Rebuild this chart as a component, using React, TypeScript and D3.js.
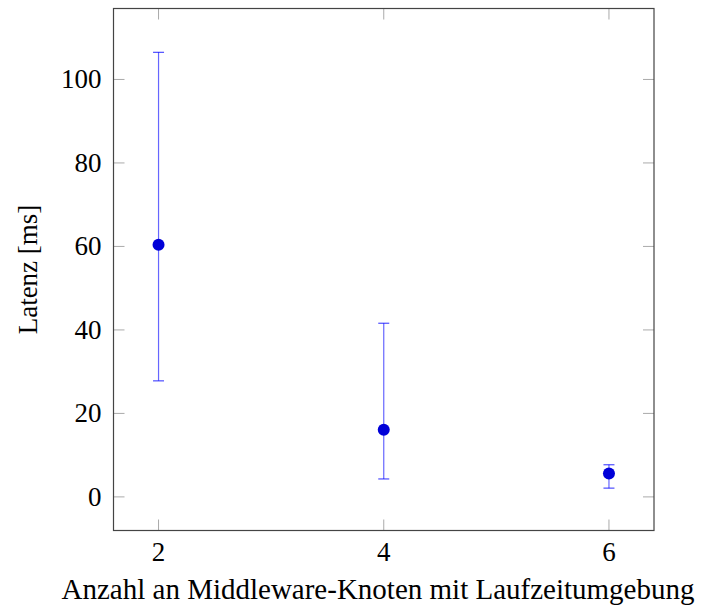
import React from "react";
import * as d3 from "d3";

const nodes = [2, 4, 6];
const meanLatency = [60.4, 16.1, 5.6];
const upperLatency = [106.5, 41.6, 7.7];
const lowerLatency = [27.8, 4.3, 2.1];
const xTicks = [2, 4, 6];
const yTicks = [0, 20, 40, 60, 80, 100];

const W = 710, H = 612;
const M = { left: 113.5, right: 654, top: 8.5, bottom: 530.5 };
const FONT = "'Liberation Serif', 'DejaVu Serif', serif";

export default function App() {
  const x = d3.scaleLinear().domain([1.6, 6.4]).range([M.left, M.right]);
  const y = d3.scaleLinear().domain([-8.05, 117.0]).range([M.bottom, M.top]);
  const tl = 11;
  return (
    <svg width={W} height={H} style={{ position: "absolute", left: 0, top: 0 }}>
      <rect width={W} height={H} fill="white" />
      {xTicks.map((t) => (
        <g key={"x" + t}>
          <line x1={x(t)} x2={x(t)} y1={M.bottom} y2={M.bottom - tl} stroke="#aaa" strokeWidth={1} />
          <line x1={x(t)} x2={x(t)} y1={M.top} y2={M.top + tl} stroke="#aaa" strokeWidth={1} />
          <text x={x(t)} y={M.bottom + 30} textAnchor="middle" fontFamily={FONT} fontSize={27} fill="#000">{t}</text>
        </g>
      ))}
      {yTicks.map((t) => (
        <g key={"y" + t}>
          <line x1={M.left} x2={M.left + tl} y1={y(t)} y2={y(t)} stroke="#aaa" strokeWidth={1} />
          <line x1={M.right} x2={M.right - tl} y1={y(t)} y2={y(t)} stroke="#aaa" strokeWidth={1} />
          <text x={M.left - 12} y={y(t) + 9} textAnchor="end" fontFamily={FONT} fontSize={27} fill="#000">{t}</text>
        </g>
      ))}
      <rect x={M.left} y={M.top} width={M.right - M.left} height={M.bottom - M.top} fill="none" stroke="#444" strokeWidth={1.2} />
      {nodes.map((n, i) => (
        <g key={"p" + n}>
          <line x1={x(n)} x2={x(n)} y1={y(lowerLatency[i])} y2={y(upperLatency[i])} stroke="#0000ff" strokeWidth={1.2} strokeOpacity={0.6} />
          <line x1={x(n) - 5.5} x2={x(n) + 5.5} y1={y(lowerLatency[i])} y2={y(lowerLatency[i])} stroke="#0000ff" strokeWidth={1.2} strokeOpacity={0.7} />
          <line x1={x(n) - 5.5} x2={x(n) + 5.5} y1={y(upperLatency[i])} y2={y(upperLatency[i])} stroke="#0000ff" strokeWidth={1.2} strokeOpacity={0.7} />
          <circle cx={x(n)} cy={y(meanLatency[i])} r={6} fill="#0000d8" />
        </g>
      ))}
      <text x={378} y={599} textAnchor="middle" fontFamily={FONT} fontSize={29} fill="#000">Anzahl an Middleware-Knoten mit Laufzeitumgebung</text>
      <text transform={`translate(37, ${(M.top + M.bottom) / 2}) rotate(-90)`} textAnchor="middle" fontFamily={FONT} fontSize={27} fill="#000">Latenz [ms]</text>
    </svg>
  );
}
